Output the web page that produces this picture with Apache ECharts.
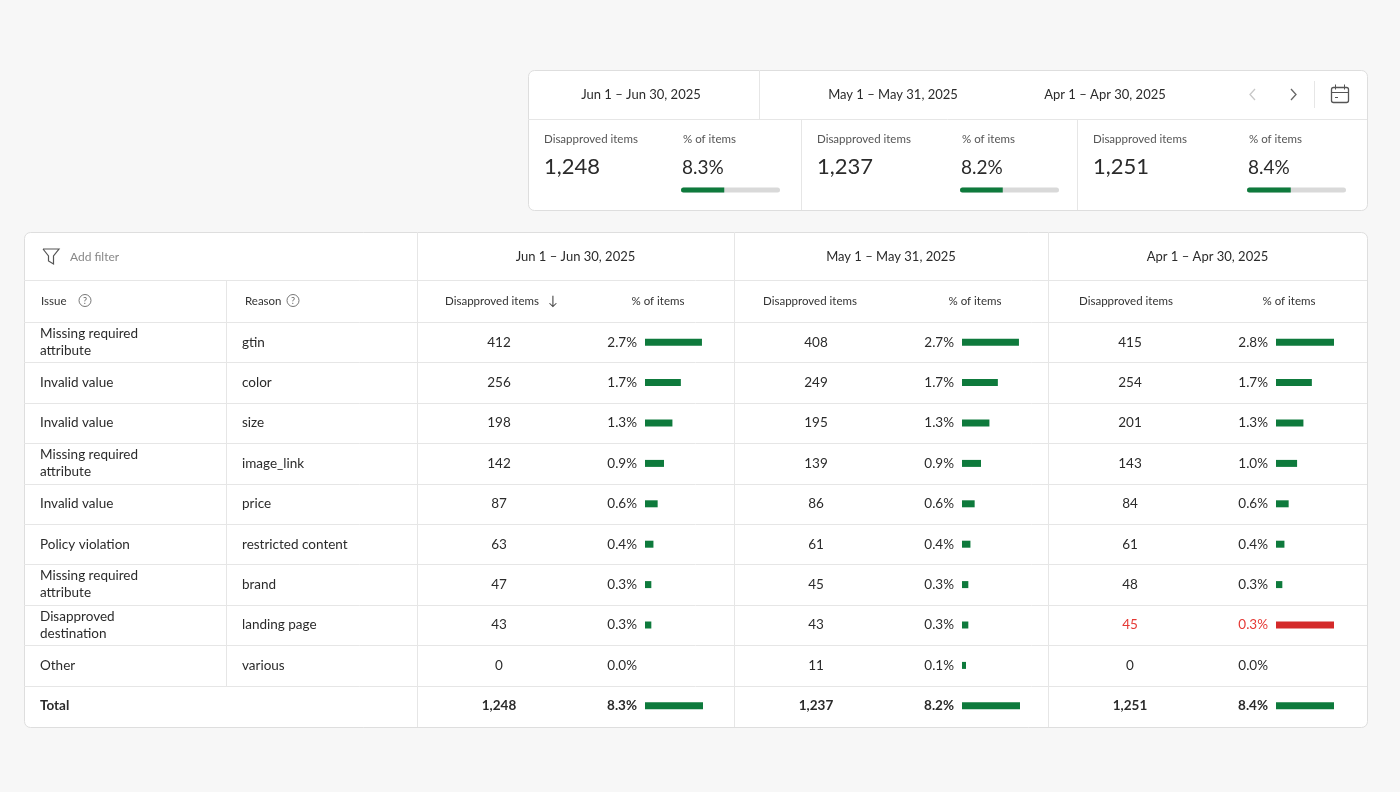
<!DOCTYPE html>
<html>
<head>
<meta charset="utf-8">
<script src="https://cdn.jsdelivr.net/npm/echarts@6/dist/echarts.min.js"></script>
<style>
  html, body { margin: 0; padding: 0; background: #f7f7f7; }
  #main { width: 1400px; height: 792px; }
</style>
</head>
<body>
<div id="main"></div>
<script>
// data
const periods = ['Jun 1 – Jun 30, 2025', 'May 1 – May 31, 2025', 'Apr 1 – Apr 30, 2025']
const issues = ['Missing required\nattribute', 'Invalid value', 'Invalid value', 'Missing required\nattribute',
  'Invalid value', 'Policy violation', 'Missing required\nattribute', 'Disapproved\ndestination', 'Other']
const reasons = ['gtin', 'color', 'size', 'image_link', 'price', 'restricted content', 'brand', 'landing page', 'various']
const junItems = [412, 256, 198, 142, 87, 63, 47, 43, 0]
const junPct = [2.7, 1.7, 1.3, 0.9, 0.6, 0.4, 0.3, 0.3, 0.0]
const mayItems = [408, 249, 195, 139, 86, 61, 45, 43, 11]
const mayPct = [2.7, 1.7, 1.3, 0.9, 0.6, 0.4, 0.3, 0.3, 0.1]
const aprItems = [415, 254, 201, 143, 84, 61, 48, 45, 0]
const aprPct = [2.8, 1.7, 1.3, 1.0, 0.6, 0.4, 0.3, 0.3, 0.0]
const totalItems = [1248, 1237, 1251]
const totalPct = [8.3, 8.2, 8.4]
const flaggedRows = [[], [], [7]] // rows shown in red
const itemsByPeriod = [junItems, mayItems, aprItems]
const pctByPeriod = [junPct, mayPct, aprPct]

const FONT = 'Lato, "Noto Sans", sans-serif'
const GREEN = '#0e7a3c'
const RED = '#d42a2a'
const LINE = '#e6e6e6'
const TXT = '#2b2b2b'
const SUB = '#555'

// layout
const T = { x0: 24, y0: 232, x1: 1367, y1: 727, head1: 280, head2: 322 }
const rowH = 40.4
const colLeft = [417, 734, 1048]
const colRight = [734, 1048, 1367]
const barMax = 2.75
const barPx = 58

const S = { x0: 528, y0: 70, x1: 1367, y1: 210, mid: 119 }
const panelLeft = [528, 801, 1077]
const panelPctX = [683, 962, 1249]
const progLeft = [681, 960, 1247]
const progMax = 19

const fmt = n => n.toLocaleString('en-US')
const pct = v => v.toFixed(1) + '%'

function text(x, y, str, opt) {
  opt = opt || {}
  return {
    type: 'text', x: x, y: y, z: 10,
    style: {
      text: str,
      fill: opt.fill || TXT,
      font: (opt.weight || 'normal') + ' ' + (opt.size || 13) + 'px ' + FONT,
      align: opt.align || 'left', textAlign: opt.align || 'left',
      verticalAlign: 'middle', textVerticalAlign: 'middle',
      lineHeight: opt.lh || 17
    }
  }
}
function line(x1, y1, x2, y2, c) {
  return { type: 'line', z: 5, shape: { x1: x1, y1: y1, x2: x2, y2: y2 }, style: { stroke: c || LINE, lineWidth: 1 } }
}
function qmark(cx, cy) {
  return [
    { type: 'circle', z: 10, shape: { cx: cx, cy: cy, r: 6 }, style: { fill: 'none', stroke: '#777', lineWidth: 1 } },
    text(cx, cy + 0.5, '?', { size: 9, align: 'center', fill: '#666' })
  ]
}

const g = []
// summary card
g.push({ type: 'rect', z: 1, shape: { x: S.x0 + 0.5, y: S.y0 + 0.5, width: S.x1 - S.x0, height: S.y1 - S.y0, r: 6 },
  style: { fill: '#fff', stroke: '#dedede', lineWidth: 1 } })
g.push(line(S.x0, S.mid + 0.5, S.x1, S.mid + 0.5))
g.push(line(759.5, S.y0, 759.5, S.mid))
g.push(line(801.5, S.mid, 801.5, S.y1))
g.push(line(1077.5, S.mid, 1077.5, S.y1))
g.push(line(1314.5, 81, 1314.5, 108))
const sumHeadX = [641, 893, 1105]
periods.forEach((p, i) => g.push(text(sumHeadX[i], 95, p, { size: 13, align: 'center' })))
// nav arrows + calendar
g.push({ type: 'polyline', z: 10, shape: { points: [[1255, 89], [1250, 94.5], [1255, 100]] }, style: { fill: 'none', stroke: '#c8c8c8', lineWidth: 1.3 } })
g.push({ type: 'polyline', z: 10, shape: { points: [[1291, 89], [1296, 94.5], [1291, 100]] }, style: { fill: 'none', stroke: '#666', lineWidth: 1.3 } })
g.push({ type: 'rect', z: 10, shape: { x: 1331.5, y: 87.5, width: 17, height: 15, r: 2 }, style: { fill: 'none', stroke: '#555', lineWidth: 1.3 } })
g.push(line(1331.5, 92.5, 1348.5, 92.5, '#555'))
g.push(line(1335.5, 84.5, 1335.5, 89.5, '#555'))
g.push(line(1344.5, 84.5, 1344.5, 89.5, '#555'))
g.push(line(1335, 97.5, 1338, 97.5, '#555'))
totalItems.forEach((v, i) => {
  g.push(text(panelLeft[i] + 16, 139, 'Disapproved items', { size: 11.5, fill: SUB }))
  g.push(text(panelLeft[i] + 16, 167, fmt(v), { size: 22 }))
  g.push(text(panelPctX[i], 139, '% of items', { size: 11.5, fill: SUB }))
  g.push(text(panelPctX[i] - 1, 168, pct(totalPct[i]), { size: 19 }))
})

// main table
g.push({ type: 'rect', z: 1, shape: { x: T.x0 + 0.5, y: T.y0 + 0.5, width: T.x1 - T.x0, height: T.y1 - T.y0, r: 6 },
  style: { fill: '#fff', stroke: '#dedede', lineWidth: 1 } })
g.push(line(T.x0, T.head1 + 0.5, T.x1, T.head1 + 0.5))
g.push(line(T.x0, T.head2 + 0.5, T.x1, T.head2 + 0.5))
for (let r = 1; r <= 9; r++) {
  const y = Math.round(T.head2 + r * rowH) + 0.5
  g.push(line(T.x0, y, T.x1, y))
}
colLeft.forEach(x => g.push(line(x + 0.5, T.y0, x + 0.5, T.y1)))
g.push(line(226.5, T.head1, 226.5, Math.round(T.head2 + 9 * rowH)))

// filter row
g.push({ type: 'polyline', z: 10, shape: { points: [[43, 249], [59, 249], [53.5, 256], [53.5, 264], [48.5, 261], [48.5, 256], [43, 249]] },
  style: { fill: 'none', stroke: '#555', lineWidth: 1.2 } })
g.push(text(70, 257, 'Add filter', { size: 12, fill: '#888' }))
periods.forEach((p, i) => g.push(text((colLeft[i] + colRight[i]) / 2, 257, p, { size: 13, align: 'center' })))

// column header row
const hy = (T.head1 + T.head2) / 2
g.push(text(41, hy, 'Issue', { size: 11.5, fill: '#333' }))
qmark(85, hy - 0.5).forEach(e => g.push(e))
g.push(text(245, hy, 'Reason', { size: 11.5, fill: '#333' }))
qmark(293, hy - 0.5).forEach(e => g.push(e))
const dHeadOff = [75, 76, 78]
colLeft.forEach((x, i) => {
  g.push(text(x + dHeadOff[i], hy, 'Disapproved items', { size: 11.5, fill: '#333', align: 'center' }))
  g.push(text(x + 241, hy, '% of items', { size: 11.5, fill: '#333', align: 'center' }))
})
g.push(text(553, hy - 0.5, '↓', { size: 13, fill: '#444', align: 'center' }))

// body rows
const rowY = r => T.head2 + (r + 0.5) * rowH
issues.forEach((s, r) => {
  g.push(text(40, rowY(r), s, { size: 13.5 }))
  g.push(text(242, rowY(r), reasons[r], { size: 13.5 }))
})
g.push(text(40, rowY(9), 'Total', { size: 13.5, weight: 'bold' }))
colLeft.forEach((x, i) => {
  itemsByPeriod[i].forEach((v, r) => {
    const c = flaggedRows[i].indexOf(r) >= 0 ? '#e53935' : TXT
    g.push(text(x + 82, rowY(r), fmt(v), { size: 13.5, align: 'center', fill: c }))
    g.push(text(x + 220, rowY(r), pct(pctByPeriod[i][r]), { size: 13.5, align: 'right', fill: c }))
  })
  g.push(text(x + 82, rowY(9), fmt(totalItems[i]), { size: 13.5, align: 'center', weight: 'bold' }))
  g.push(text(x + 220, rowY(9), pct(totalPct[i]), { size: 13.5, align: 'right', weight: 'bold' }))
})

// grids: one per period for table bars, one per period for summary progress
const grid = [], xAxis = [], yAxis = [], series = []
const rowCats = reasons.concat(['Total'])
colLeft.forEach((x, i) => {
  grid.push({ left: x + 228, top: T.head2, width: barPx, height: rowH * 10 })
  xAxis.push({ gridIndex: i, type: 'value', min: 0, max: barMax, show: false })
  yAxis.push({ gridIndex: i, type: 'category', data: rowCats, inverse: true, show: false })
  const vals = pctByPeriod[i].concat([totalPct[i]])
  series.push({
    type: 'bar', xAxisIndex: i, yAxisIndex: i, barWidth: 7, barMinHeight: 4, clip: true, z: 20,
    itemStyle: { color: GREEN },
    data: vals.map((v, r) => (v === 0 || flaggedRows[i].indexOf(r) >= 0) ? '-' : v)
  })
  series.push({
    type: 'bar', xAxisIndex: i, yAxisIndex: i, barWidth: 7, barGap: '-100%', clip: true, z: 20,
    itemStyle: { color: RED },
    data: vals.map((v, r) => flaggedRows[i].indexOf(r) >= 0 ? barMax : '-')
  })
})
progLeft.forEach((x, i) => {
  const k = 3 + i
  grid.push({ left: x, top: 187, width: 99, height: 6 })
  xAxis.push({ gridIndex: k, type: 'value', min: 0, max: progMax, show: false })
  yAxis.push({ gridIndex: k, type: 'category', data: ['pct'], show: false })
  series.push({
    type: 'bar', xAxisIndex: k, yAxisIndex: k, barWidth: 5, z: 20,
    showBackground: true, backgroundStyle: { color: '#d9d9d9', borderRadius: 2.5 },
    itemStyle: { color: GREEN, borderRadius: [2.5, 0, 0, 2.5] },
    data: [totalPct[i]]
  })
})

const chart = echarts.init(document.getElementById('main'))
chart.setOption({
  backgroundColor: '#f7f7f7',
  animation: false,
  grid: grid,
  xAxis: xAxis,
  yAxis: yAxis,
  series: series,
  graphic: { elements: g }
})
</script>
</body>
</html>
